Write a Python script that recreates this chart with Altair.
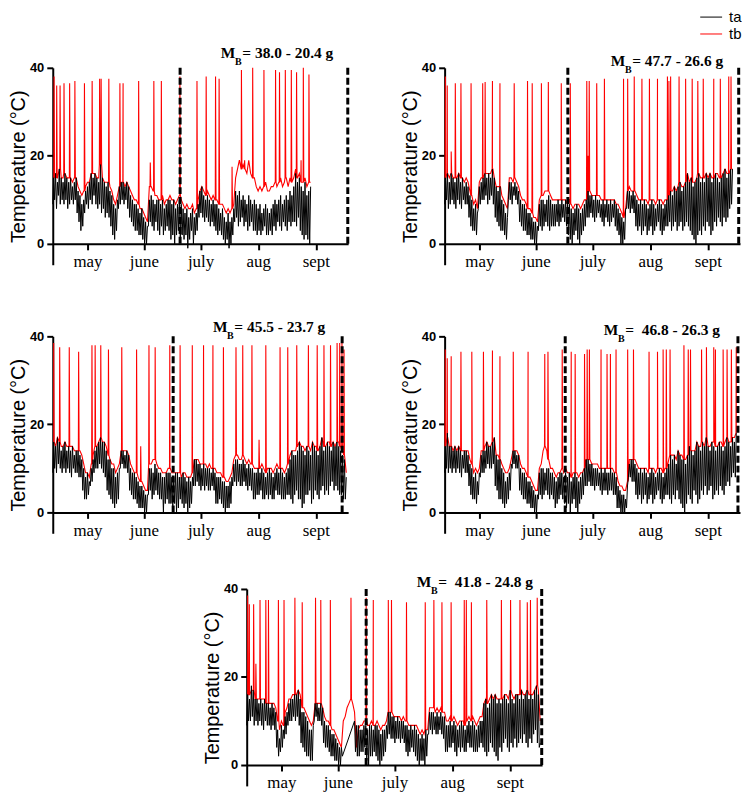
import altair as alt
import numpy as np
import pandas as pd

# ---------------- axis definitions ----------------
month_ticks = [18.5, 48.6, 78.8, 109.6, 140.3]
month_names = ["may", "june", "july", "aug", "sept"]
x_max = 157.5
y_lo, y_hi = -4.75, 40
y_ticks = [0, 20, 40]

# ---------------- panel 1 ----------------
p1_ta_hi = [15,16,14,17,15,14,16,15,14,15,13,14,15, 12,11,9,10,12, 13,14,16,15,16,15,14,
            18,15,14,13,14,12, 11,9,8,10, 13,14,14,13,14,13, 11,10,9,9,8,7,8,6,5,4,
            10,11,10,9,10, 10,9,10,8,9,10, 10,9,10,8,9,10,9, 8,7,8,6,7,8,6,7,9,
            12,13,11,10,11,10,9,10,9, 9,8,7,8,6,5,7,5,6,8, 12,11,12,10,11,10,9,11,10,9,10,
            9,8,9,7,8,9,8,7,8,9, 10,9,10,11,9,10,11,10,12,11,13, 16,14,15,13,12,14,11,12,13]
p1_ta_lo = [9,10,8,11,9,10,9,10,8,9,10,9,10, 7,5,3,4,7, 9,8,10,9,11,9,8,
            9,7,8,6,7,6, 4,2,1,3, 8,9,10,9,10,8, 6,5,4,3,3,2,2,1,0,0,
            4,5,4,3,5, 3,2,4,2,3,4, 3,1,2,0,2,3,1, 2,1,2,-1,1,3,0,2,3,
            6,7,6,5,6,5,4,5,4, 3,2,3,2,1,0,1,-1,0,2, 5,6,4,5,6,4,5,3,4,5,3,
            3,2,3,2,3,4,2,2,3,2, 4,3,5,4,3,5,4,3,5,4,5, 5,4,6,3,2,1,2,1,0]
p1_tb = [15,16,15,17,15,15,16,15,15,15,14,15,15, 13,12,11,12,13, 14,14,16,16,16,15,15,
         18,15,14,14,14,13, 12,10,9,11, 13,14,14,13,14,13, 12,11,10,10,9,8,8,7,6,5,
         13,13,12,11,11, 10,10,11,9,10,10, 11,10,10,9,10,11,10, 9,8,9,8,8,9,7,8,10,
         12,13,12,11,12,11,10,11,10, 10,9,9,9,8,7,8,7,8,9, 15,17,19,17,18,17,16,19,16,15,15,
         13,12,13,12,13,14,12,12,13,13, 14,13,14,15,13,14,15,13,15,14,15, 17,15,16,14,14,15,13,14,14]
p1_spike_day = [0.7,2.1,3.9,6.0,9.0,11.8,16.9,21.0,25.0,25.8,29.9,35.8,37.5,45.8,52.0,
                53.9,57.9,67.8,76.9,81.8,86.8,88.7,95.6,100.6,102.3,106.6,112.6,118.8,
                120.9,124.0,127.2,130.0,132.4,133.6,136.6]
p1_spike_val = [38,36,36,36.5,36.5,37,36.5,37,37.5,37.5,37.5,36.5,36.5,37,18.5,
                37,37,38,37,38,38,37.5,17.5,39.5,19,40,39.5,39.5,
                39,39.5,39.5,39,19,40,38.5]
p1_dash = [67.9, 157.3]
p1_mass = "= 38.0 - 20.4 g"

# ---------------- panel 2 ----------------
p2_ta_hi = [15,16,14,16,15,14,15,16,14,15,13,14,13, 11,10,8,9,7, 13,14,15,16,15,16,15,17,15,
            13,12,13,10,9,7,6, 14,14,13,14,13,12, 10,9,9,8,7,7,6,5,5,4,
            9,10,10,9,10,11,10,9,9, 9,10,9,10,9,10,9, 9,8,7,8,9,8,7,8,9,10,
            12,11,11,10,11,10,10,9, 10,9,10,9,10,9,10,9,8,7, 6,5,8, 12,12,11,12,11,
            10,9,10,9,10,9,8,9,10,9,8,9,10,9,8,9,10, 11,12,11,13,12,13,14,12,13,14,16,
            14,15,13,14,15,16,14,15,14,16,15,16,14,15,16,15,14,15,16,17,15,16,17,17]
p2_ta_lo = [9,10,8,9,10,9,8,10,9,8,10,9,9, 6,4,3,3,2, 8,9,10,10,11,9,10,11,9,
            6,5,4,3,3,2,1, 10,10,9,11,10,9, 5,4,3,3,2,2,1,1,0,0,
            3,4,3,4,5,4,3,4,4, 4,5,4,5,6,5,4, 2,1,0,2,3,1,0,2,3,4,
            6,6,7,6,5,6,7,6, 5,4,6,5,4,5,6,4,3,2, 0,0,1, 8,8,7,8,7,
            4,3,4,2,3,4,2,3,4,2,3,4,5,3,2,3,4, 4,5,3,4,5,3,4,5,3,4,5,
            4,3,2,1,0,2,3,2,4,3,5,4,2,3,5,4,6,5,4,6,5,6,8,9]
p2_tb = [15,16,15,16,15,15,15,16,15,15,14,15,14, 12,11,9,10,8, 14,15,15,16,16,16,16,17,15,
         13,13,13,11,10,9,8, 15,15,14,15,14,13, 11,10,10,9,8,8,7,6,6,5,
         10,11,11,12,12,12,11,10,10, 10,10,10,10,10,10,9, 10,9,8,9,9,9,8,9,10,10,
         12,12,11,11,11,11,11,10, 10,10,10,10,10,10,10,9,9,8, 7,6,8, 12,13,12,12,12,
         11,10,10,10,10,10,9,10,10,10,9,10,10,10,9,10,10, 11,12,12,13,12,13,14,13,13,14,16,
         14,15,14,14,15,16,15,15,15,16,15,16,15,15,16,16,15,15,16,17,16,16,17,17]
p2_spike_day = [0.4,1.4,3.5,5.7,8.7,14.1,20.3,21.6,25.5,29.5,37.1,44.2,46.7,51.6,55.3,
                62.2,67.0,75.8,76.5,77.1,81.1,85.2,95.4,97.6,101.1,105.2,109.2,113.5,
                118.8,119.6,120.5,125.0,128.5,132.0,135.0,137.9,143.5,147.0,151.5,152.7]
p2_spike_val = [38,36,21,36.5,36.5,36.5,36.5,36.8,37,36.5,36.5,37,36.5,36.5,36.8,
                36.5,36.5,37,20,37,36.5,37.5,37.5,37.5,38,37.5,37.5,37.5,
                38,37,38,38,37.5,37.5,37,37.5,37.5,37.5,38,38]
p2_dash = [65.7, 156.8]
p2_mass = "= 47.7 - 26.6 g"

# ---------------- panel 3 ----------------
p3_ta_hi = [16,15,17,16,14,15,16,14,15,14,15,13,14,14,13,12, 10,8,9,7,10,12, 14,15,16,17,16,16,14,
            12,12,10,10,8,9,10, 14,14,13,14,13, 10,9,9,8,7,6,6,5,4,4, 10,10,9,11,10,9,9,8,
            8,9,9,9,8, 8,9,9,8,8,9,8,7,8,7,8, 12,12,11,11,10,11,10,10,10,9,10,9,
            8,8,8,7,7,6,6,7,8, 11,12,12,11,11,12,11,10,11,10,10,
            9,9,10,9,10,9,8,9,10,9,8,9,10,9,10,9,8,9,10,
            12,14,13,13,14,16,15,14,13,15,14,13,16,15,14,13,15,17,14,15,16,15,14,16,15,16,15,14,13,12,8]
p3_ta_lo = [9,10,9,11,10,9,10,9,10,9,8,10,9,9,8,8, 5,3,3,4,6,7, 9,10,10,11,10,9,8,
            5,4,3,2,1,2,3, 10,11,10,10,9, 5,4,3,3,2,1,1,1,0,0, 4,5,3,4,5,4,3,3,
            0,2,3,2,2, 1,2,0,1,3,2,1,2,0,1,2, 6,6,7,6,5,6,5,6,5,5,6,5,
            2,2,3,2,1,0,1,1,2, 6,7,6,7,6,6,7,6,5,6,5,
            3,3,4,4,5,3,3,4,3,4,3,3,5,4,4,3,3,3,4,
            4,3,2,4,5,3,3,1,2,4,4,5,2,3,5,4,3,5,6,4,5,4,6,7,5,6,5,4,4,3,3]
p3_tb = [16,15,17,16,15,15,16,15,15,15,15,14,14,14,14,13, 11,9,9,8,11,13, 15,15,16,17,16,16,15,
         13,12,11,11,9,10,11, 14,14,14,14,13, 11,10,9,9,8,7,7,6,5,5, 11,11,12,12,11,10,10,9,
         9,9,10,10,9, 9,9,9,9,8,9,9,8,8,8,9, 12,12,12,11,11,11,11,10,11,10,10,10,
         9,9,9,8,8,7,7,8,9, 12,13,13,12,12,13,12,11,12,11,11,
         10,10,10,10,11,10,9,10,10,10,9,10,11,10,10,10,9,10,11,
         13,14,14,14,15,16,15,15,14,15,15,14,16,15,15,14,15,17,15,15,16,16,15,16,15,16,16,15,14,13,9]
p3_spike_day = [0.5,3.7,8.8,13.8,20.9,22.6,25.6,29.7,36.8,44.7,46.9,51.3,54.6,62.4,67.9,
                74.4,80.4,85.4,91.0,97.7,101.3,106.2,110.0,113.6,121.2,125.3,130.1,136.3,
                141.0,144.6,148.1,151.6,153.0,154.2,155.3]
p3_spike_val = [38.5,37.5,37.5,36.5,38,38,38,37,37.5,37,15,38,37.5,38,38,
                38,38,38,37.5,37.5,38,38,16.5,38,37.5,37.5,38,38,
                38,38,38,38.5,38.5,39.5,37]
p3_dash = [64.2, 154.3]
p3_mass = "= 45.5 - 23.7 g"

# ---------------- panel 4 ----------------
p4_ta_hi = [15,18,15,15,14,15,14,15,14,13,14,14,13, 11,10,8,9,7,9, 13,14,14,16,15,15,16,17,
            13,12,12,10,9,7,8,9,11, 14,14,13,13, 10,9,9,8,7,7,6,5,4,4, 9,10,10,9,10,10,9,9,8,
            7,8,9,9,8, 9,8,9,7,8,9,8,7,8,9,10, 12,12,11,11,10,10,10,9, 10,9,10,9,9,10,9,9,8,
            6,5,4,4,3,6, 11,12,12,11, 10,9,10,9,10,9,8,9,10,9,8,9,10,9,8,9,10,
            11,13,12,13,11,14,13,12,12,11,13,15,14,13,14,16,15,14,16,15,17,15,14,16,15,14,15,16,15,14,15,17,16,15,17,16,18]
p4_ta_lo = [9,10,9,10,9,10,9,10,9,8,10,9,9, 6,4,3,3,2,4, 8,9,9,10,11,10,10,11,
            6,5,3,3,2,1,2,3,5, 10,11,10,10, 5,4,3,3,2,2,1,1,0,0, 3,4,3,4,5,4,3,4,3,
            1,2,3,4,3, 2,1,2,0,2,3,1,0,2,3,4, 6,6,7,6,6,5,6,6, 5,4,5,5,4,5,5,4,4,
            1,1,0,0,0,1, 8,8,7,7, 4,3,4,2,3,4,2,3,4,2,3,4,5,3,2,3,4,
            4,3,2,4,3,5,3,2,1,0,2,4,3,2,5,4,2,3,5,4,6,4,5,6,3,4,5,4,6,5,4,6,7,6,8,9,8]
p4_tb = [15,17,15,15,14,15,14,15,14,14,14,14,14, 12,11,9,10,9,10, 14,14,15,16,15,15,16,17,
         13,13,12,11,10,9,9,10,12, 14,14,14,13, 11,10,10,9,8,8,7,6,5,5, 10,11,14,15,14,12,10,10,9,
         8,9,9,10,9, 10,9,9,8,9,9,9,8,9,9,10, 12,12,12,11,11,11,11,10, 10,10,10,10,10,10,10,9,9,
         7,6,6,5,5,7, 12,12,12,12, 11,10,10,10,10,10,9,10,10,10,9,10,10,10,9,10,10,
         12,13,13,13,12,14,13,13,12,12,13,15,14,14,14,16,15,15,16,15,17,15,15,16,16,15,15,16,16,15,16,17,16,16,17,17,18]
p4_spike_day = [0.35,1.4,3.5,8.7,14.5,20.7,25.5,29.5,36.6,44.5,53.4,55.1,62.7,67.5,69.6,
                74.6,76.0,77.2,83.4,86.6,88.4,91.4,97.6,100.7,109.0,113.5,116.5,118.2,
                120.2,127.6,129.9,131.1,137.0,139.6,143.5,144.4,148.5,150.6,152.9,155.5]
p4_spike_val = [37,35,35.5,36.5,36.5,36.5,36.8,35.5,36.5,36.5,36,36.5,37,36.5,36,
                36,37,37,37,36,36,37,37,37,36.5,36.5,37,37,
                37,38,37,37,37,37.5,37.5,37,37,37,37,37.5]
p4_dash = [64.3, 156.4]
p4_mass = "=\u00a0 46.8 - 26.3 g"

# ---------------- panel 5 ----------------
p5_ta_hi = [16,15,18,17,15,15,14,15,14,15,14,14,13,14,13,12, 8,6,9,8,11,12, 14,15,15,16,16,17,15,
            12,12,11,10,8,8,9, 14,14,13,14,13, 10,9,9,8,7,7,6,5,4,4,
            None,None,None,None,None,None,10, 9,9,8,8,9,9, 8,9,9,8,9,9,8,7,8,8,9,
            12,12,11,11,10,11,10,10,10,9, 9,8,9,8,9,8,7,6,7,6,8,7, 12,12,12,11,12,11,12,11,11,
            9,9,10,9,10,9,8,9,10,9,8,9,10,9,10,9,8,9,10,10,
            14,15,13,14,16,15,16,14,15,14,15,16,15,14,17,15,14,16,16,15,17,15,16,17,15,16,15,17,18,16,5]
p5_ta_lo = [9,10,10,11,9,10,9,10,9,8,10,9,9,8,9,8, 4,2,3,4,6,7, 9,10,10,11,10,11,9,
            5,4,3,2,2,1,1, 10,11,10,10,9, 5,4,4,3,2,2,1,1,0,0,
            2,None,None,None,None,None,None, 3,2,2,3,3,4, 1,0,2,2,3,2,1,0,1,2,3,
            6,7,6,6,5,6,6,5,6,5, 3,2,3,4,3,2,1,0,1,1,0,2, 7,8,7,8,7,7,8,7,6,
            3,3,4,4,5,3,2,4,3,4,3,3,5,4,4,3,3,3,4,5,
            4,3,2,3,5,4,3,2,1,4,3,5,6,4,3,5,4,6,4,5,6,5,7,5,4,6,5,7,8,5,4]
p5_tb = [16,16,17,17,15,15,15,15,15,15,14,14,14,14,14,13, 10,8,10,9,12,13, 15,15,16,16,16,17,16,
         13,13,12,11,10,9,10, 14,14,14,14,13, 11,10,10,9,8,8,7,6,5,4, 10,11,13,14,15,14,12,
         4,8,9,9,10,10, 9,9,10,9,9,10,9,8,9,9,10, 12,12,12,11,11,11,11,10,11,10,
         10,9,9,9,9,9,8,7,8,7,8,8, 13,13,13,12,13,12,13,12,12,
         10,10,11,10,11,10,9,10,10,10,9,10,11,10,11,10,9,10,11,11,
         14,15,14,15,16,15,16,15,15,15,15,16,16,15,17,16,15,16,16,16,17,16,16,17,16,16,16,17,18,17,10]
p5_spike_day = [0.5,1.4,3.7,4.9,7.1,10.2,11.6,16.9,19.9,25.7,29.6,36.7,39.5,44.6,55.6,
                63.7,67.5,75.5,77.2,85.2,95.2,99.8,104.1,109.0,116.0,117.1,119.8,128.0,
                135.8,140.7,145.7,149.6,151.3,154.9]
p5_spike_val = [38.5,36.5,36.5,23,37.5,37.5,37.5,37.5,37.5,38,37,38,37.5,37.5,38,
                38,37.5,37.5,37.5,37,37,37.5,37,37,37.5,37.5,37,37.5,
                37.5,37.5,37.5,37,37.5,38]
p5_dash = [63.7, 157.3]
p5_mass = "=\u00a0 41.8 - 24.8 g"

# ---------------- styling ----------------
RED = "#ff0000"
SANS = "Liberation Sans"
SERIF = "Liberation Serif"
W, H = 297, 198
MASS_FS = 15.5

label_expr = ("[" + ",".join(f"'{n}'" for n in month_names) + "][indexof(["
              + ",".join(str(t) for t in month_ticks) + "], datum.value)]")


def ta_frame(hi, lo):
    days, vals = [], []
    for i, (h, l) in enumerate(zip(hi, lo)):
        if l is not None:
            days.append(i); vals.append(float(l))
        if h is not None:
            days.append(i + 0.5); vals.append(float(h))
    return pd.DataFrame({"day": days, "t": vals})


def tb_frame(tb, sdays, svals):
    days = [i + 0.5 for i in range(len(tb))]
    vals = [float(v) for v in tb]
    for d, v in zip(sdays, svals):
        b = float(tb[min(int(d), len(tb) - 1)])
        days += [d - 0.15, d, d + 0.25]
        vals += [b, v, b]
    return pd.DataFrame({"day": days, "t": vals}).sort_values("day")


def text_layer(s, x, y, size, font=SERIF, weight="bold", color="black", baseline="alphabetic"):
    return alt.Chart(pd.DataFrame({"s": [s]})).mark_text(
        align="left", baseline=baseline, font=font, fontSize=size,
        fontWeight=weight, color=color).encode(
        x=alt.value(x), y=alt.value(y), text="s:N")


def panel(hi, lo, tb, sdays, svals, dashes, mass, mx, my, legend=False):
    xs = alt.X("day:Q", scale=alt.Scale(domain=[0, x_max], nice=False, zero=False),
               axis=alt.Axis(values=month_ticks, labelExpr=label_expr, title=None, grid=False,
                             offset=-21, domainWidth=2, tickWidth=2, tickSize=6,
                             domainColor="black", tickColor="black", labelColor="black",
                             labelFont=SERIF, labelFontSize=17, labelPadding=4,
                             labelFlush=False, labelOverlap=False))
    ys = alt.Y("t:Q", scale=alt.Scale(domain=[y_lo, y_hi], nice=False, zero=False),
               axis=alt.Axis(values=y_ticks, title="Temperature (°C)", grid=False,
                             domainWidth=2, tickWidth=2, tickSize=6,
                             domainColor="black", tickColor="black", labelColor="black",
                             labelFont=SANS, labelFontSize=13, labelFontWeight="bold",
                             labelPadding=3, titleFont=SANS, titleFontSize=20,
                             titleFontWeight="normal", titleColor="black", titlePadding=1))
    red = alt.Chart(tb_frame(tb, sdays, svals)).mark_line(
        color=RED, strokeWidth=1.1).encode(x=xs, y=ys)
    black = alt.Chart(ta_frame(hi, lo)).mark_line(
        color="black", strokeWidth=1).encode(x="day:Q", y="t:Q")
    dash_df = pd.DataFrame({"day": dashes, "t": [0] * len(dashes), "t2": [40] * len(dashes)})
    dash = alt.Chart(dash_df).mark_rule(
        color="black", strokeWidth=3, strokeDash=[7, 3]).encode(
        x="day:Q", y="t:Q", y2="t2:Q")
    layers = [red, black, dash,
              text_layer("M", mx, my, MASS_FS),
              text_layer("B", mx + 14.3, my + 7, 10),
              text_layer(mass, mx + 21.6, my, MASS_FS)]
    if legend:
        one = pd.DataFrame({"s": [0]})
        layers += [
            alt.Chart(one).mark_rule(color="black", strokeWidth=1).encode(
                x=alt.value(257), x2=alt.value(279), y=alt.value(-51)),
            alt.Chart(one).mark_rule(color=RED, strokeWidth=1).encode(
                x=alt.value(257), x2=alt.value(279), y=alt.value(-34)),
            text_layer("ta", 286, -51, 15, font=SANS, weight="normal", baseline="middle"),
            text_layer("tb", 286, -34, 15, font=SANS, weight="normal", baseline="middle"),
        ]
    return alt.layer(*layers).properties(width=W, height=H)


c1 = panel(p1_ta_hi, p1_ta_lo, p1_tb, p1_spike_day, p1_spike_val, p1_dash, p1_mass, 169, -10)
c2 = panel(p2_ta_hi, p2_ta_lo, p2_tb, p2_spike_day, p2_spike_val, p2_dash, p2_mass, 167, -2, legend=True)
c3 = panel(p3_ta_hi, p3_ta_lo, p3_tb, p3_spike_day, p3_spike_val, p3_dash, p3_mass, 161, -4)
c4 = panel(p4_ta_hi, p4_ta_lo, p4_tb, p4_spike_day, p4_spike_val, p4_dash, p4_mass, 160, -1)
c5 = panel(p5_ta_hi, p5_ta_lo, p5_tb, p5_spike_day, p5_spike_val, p5_dash, p5_mass, 171, -2)

spacer = alt.Chart(pd.DataFrame({"s": [0]})).mark_point(opacity=0).encode(
    x=alt.value(0), y=alt.value(0)).properties(width=195, height=10)

row1 = alt.hconcat(c1, c2, spacing=97, bounds="flush")
row2 = alt.hconcat(c3, c4, spacing=97, bounds="flush")
row3 = alt.hconcat(spacer, c5, spacing=0, bounds="flush")
top = alt.vconcat(row1, row2, spacing=51)
chart = alt.vconcat(top, row3, spacing=37).properties(padding=0).configure_view(stroke=None)

chart.save("out.html", embed_options={"renderer": "svg", "actions": False})
